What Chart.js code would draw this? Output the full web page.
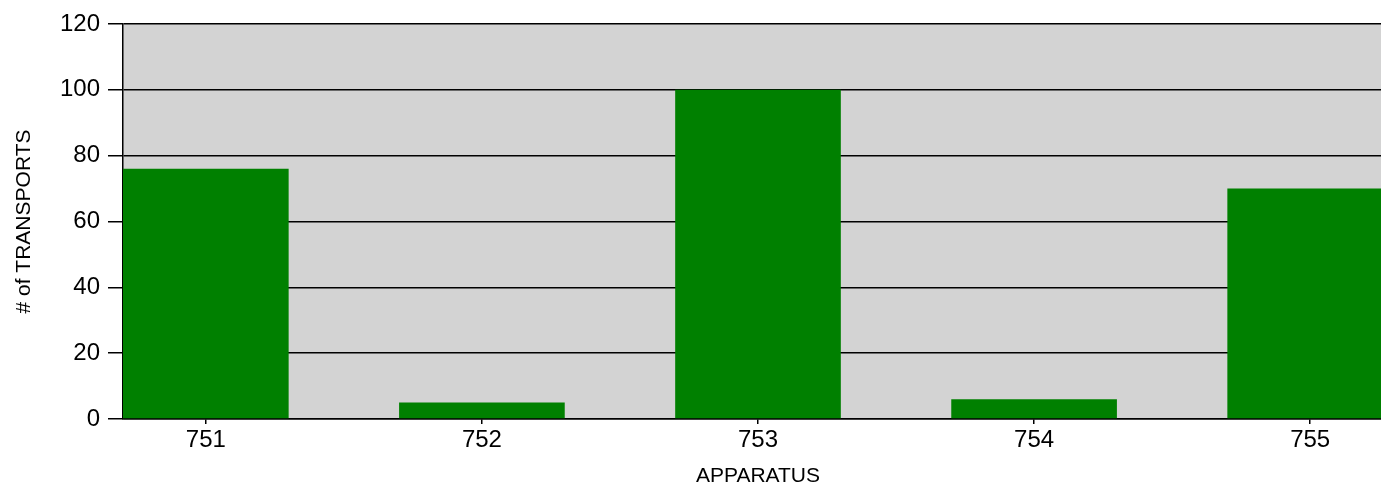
<!DOCTYPE html>
<html>
<head>
<meta charset="utf-8">
<script src="https://cdn.jsdelivr.net/npm/chart.js@4/dist/chart.umd.min.js"></script>
<style>
  html, body { margin: 0; padding: 0; background: #fff; overflow: hidden; }
  #wrap { width: 1393px; height: 492px; }
</style>
</head>
<body>
<div id="wrap"><canvas id="myChart" width="1393" height="492"></canvas></div>
<script>
const apparatus = ["751", "752", "753", "754", "755"];
const transports = [76, 5, 100, 6, 70];
const yTicks = [0, 20, 40, 60, 80, 100, 120];

// gray plot background
const plotBg = {
  id: 'plotBg',
  beforeDraw(chart) {
    const a = chart.chartArea, ctx = chart.ctx;
    ctx.save();
    ctx.fillStyle = '#d3d3d3';
    ctx.fillRect(a.left, a.top, a.right - a.left, a.bottom - a.top);
    ctx.restore();
  }
};

const tickFont = { family: 'Arial, "Liberation Sans", sans-serif', size: 24 };
const titleFont = { family: 'Arial, "Liberation Sans", sans-serif', size: 21 };

const config = {
  type: 'bar',
  data: {
    datasets: [{
      data: transports.map((v, i) => ({ x: i, y: v })),
      backgroundColor: '#008000',
      borderWidth: 0,
      barPercentage: 0.6,
      categoryPercentage: 1
    }]
  },
  options: {
    responsive: false,
    animation: false,
    devicePixelRatio: 1,
    layout: { padding: { top: 24, right: 0, left: 0, bottom: 0 } },
    plugins: { legend: { display: false }, tooltip: { enabled: false } },
    scales: {
      x: {
        type: 'linear',
        offset: false,
        min: -0.3,
        max: 4.3,
        afterBuildTicks: (s) => { s.ticks = apparatus.map((c, i) => ({ value: i })); },
        afterFit: (s) => { s.height = 73; },
        ticks: {
          callback: (v) => apparatus[v],
          color: '#000',
          font: tickFont,
          padding: 2,
          maxRotation: 0,
          autoSkip: false
        },
        grid: { offset: false, drawOnChartArea: false, drawTicks: true, tickLength: 5, color: '#000', lineWidth: 1.5 },
        border: { color: '#000', width: 1.5 },
        title: { display: true, text: 'APPARATUS', color: '#000', font: titleFont, padding: { top: 0, bottom: 3 } }
      },
      y: {
        min: 0,
        max: 120,
        afterBuildTicks: (s) => { s.ticks = yTicks.map(v => ({ value: v })); },
        afterFit: (s) => { s.width = 123; },
        ticks: { color: '#000', font: tickFont, padding: 8 },
        grid: { color: '#000', lineWidth: 1.5, tickLength: 15 },
        border: { color: '#000', width: 1.5 },
        title: { display: true, text: '# of TRANSPORTS', color: '#000', font: titleFont, padding: { top: 12, bottom: 0 } }
      }
    }
  },
  plugins: [plotBg]
};

new Chart(document.getElementById('myChart'), config);
</script>
</body>
</html>
